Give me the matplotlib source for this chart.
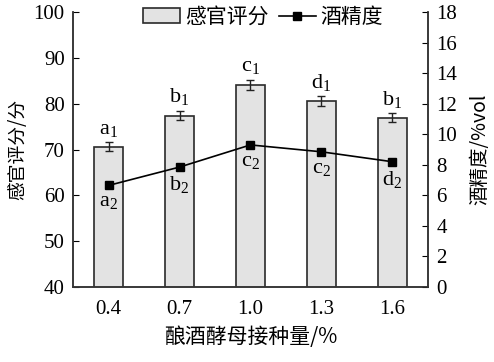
import matplotlib
matplotlib.use('Agg')
import matplotlib.pyplot as plt
import numpy as np

plt.rcParams['font.family'] = ['Liberation Serif', 'Noto Sans CJK SC']
plt.rcParams['mathtext.fontset'] = 'custom'
plt.rcParams['mathtext.rm'] = 'Liberation Serif'
plt.rcParams['mathtext.it'] = 'Liberation Serif'

doses = ['0.4', '0.7', '1.0', '1.3', '1.6']
score = [70.6, 77.4, 84.1, 80.5, 76.9]
score_err = [1.0, 1.0, 1.1, 1.1, 1.0]
alcohol = [6.65, 7.85, 9.3, 8.85, 8.2]
score_sig = ['a', 'b', 'c', 'd', 'b']
alcohol_sig = ['a', 'b', 'c', 'c', 'd']

cjk = ['Noto Sans CJK SC', 'Liberation Serif']
x = np.arange(len(doses))

fig = plt.figure(figsize=(4.94, 3.62), dpi=100)
ax = fig.add_axes([0.148, 0.207, 0.718, 0.760])
ax2 = ax.twinx()

bars = ax.bar(x, score, width=0.4, color='#e3e3e3', edgecolor='#2a2a2a', linewidth=1.2,
              yerr=score_err, capsize=3, error_kw=dict(elinewidth=1, ecolor='#222222', capthick=1),
              label='感官评分', zorder=2)
ln, = ax2.plot(x, alcohol, '-s', color='black', markersize=6, linewidth=1.2, label='酒精度')

ax.set_xlim(-0.5, 4.5)
ax.set_ylim(40, 100)
ax.set_yticks(np.arange(40, 101, 10))
ax2.set_ylim(0, 18)
ax2.set_yticks(np.arange(0, 19, 2))
ax.set_xticks(x)
ax.set_xticklabels(doses)

for a in (ax, ax2):
    a.spines['top'].set_visible(False)
    for s in a.spines.values():
        s.set_color('#333333')
        s.set_linewidth(1.1)
ax.tick_params(axis='y', direction='in', labelsize=15, length=4, pad=6)
ax.tick_params(axis='x', length=0, labelsize=15, pad=9)
ax2.tick_params(axis='y', direction='in', labelsize=15, length=4, pad=6)

ax.set_xlabel('酿酒酵母接种量/%', family=cjk, fontsize=15, labelpad=5)
ax.set_ylabel('感官评分/分', family=cjk, fontsize=13.5, labelpad=4)
ax2.set_ylabel('酒精度/%vol', family=cjk, fontsize=14, labelpad=9)

for i in range(len(doses)):
    ax.text(x[i], score[i] + score_err[i] + 0.8, score_sig[i] + r'$_\mathregular{1}$',
            ha='center', va='bottom', fontsize=16)
    ax2.text(x[i], alcohol[i] - 0.45, alcohol_sig[i] + r'$_\mathregular{2}$',
             ha='center', va='top', fontsize=16)

ax.legend([bars, ln], ['感官评分', '酒精度'], loc='upper center', bbox_to_anchor=(0.535, 1.09),
          ncol=2, frameon=False, prop={'family': cjk, 'size': 15},
          handlelength=1.8, handletextpad=0.2, columnspacing=0.5)

fig.savefig('out.png', dpi=100)
